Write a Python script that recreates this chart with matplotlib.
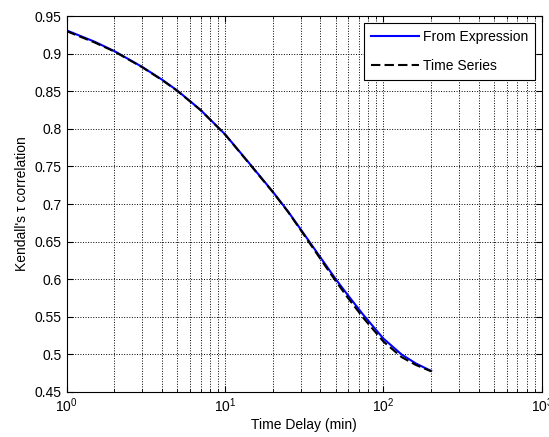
import matplotlib
matplotlib.use("Agg")
import matplotlib.pyplot as plt
from matplotlib.ticker import LogLocator, NullFormatter, MultipleLocator

# time delays (min) and Kendall's tau for both estimates
delay = [1, 1.5, 2, 3, 4, 5, 7, 10, 14, 20, 25, 30, 40, 50, 60, 75, 100, 130, 160, 200]
tau_expr = [0.931, 0.916, 0.9035, 0.8824, 0.8655, 0.8509, 0.8253, 0.7928, 0.7560, 0.7165,
            0.6900, 0.6665, 0.6290, 0.6000, 0.5780, 0.5520, 0.5210, 0.5000, 0.4880, 0.4780]
tau_ts = [0.930, 0.915, 0.9030, 0.8820, 0.8650, 0.8505, 0.8250, 0.7925, 0.7555, 0.7160,
          0.6895, 0.6655, 0.6270, 0.5975, 0.5745, 0.5480, 0.5170, 0.4965, 0.4860, 0.4775]

plt.rcParams['font.family'] = ['Liberation Sans', 'DejaVu Sans']
plt.rcParams['mathtext.fontset'] = 'custom'
plt.rcParams['mathtext.rm'] = 'Liberation Sans'
plt.rcParams['mathtext.it'] = 'Liberation Sans:italic'

fig = plt.figure(figsize=(5.49, 4.37), dpi=100)
ax = fig.add_axes([0.1215, 0.103, 0.8655, 0.860])

ax.plot(delay, tau_expr, color=(0, 0, 1), lw=1.5, label='From Expression')
ax.plot(delay, tau_ts, color='black', lw=1.5, dashes=(4.5, 2), label='Time Series')

ax.set_xscale('log')
ax.set_xlim(1, 1000)
ax.set_ylim(0.45, 0.95)
ax.yaxis.set_major_locator(MultipleLocator(0.05))
ax.xaxis.set_minor_locator(LogLocator(base=10, subs=range(2, 10)))
ax.xaxis.set_minor_formatter(NullFormatter())
ax.set_yticklabels([f'{v:g}' for v in ax.get_yticks()])

ax.grid(True, which='major', axis='both', color='black', linestyle=':', lw=0.7)
ax.grid(True, which='minor', axis='x', color='black', linestyle=':', lw=0.7)
ax.tick_params(which='both', direction='in', top=True, right=True, labelsize=10)
ax.tick_params(which='major', length=4)
ax.tick_params(which='minor', length=2.5)

ax.set_xlabel('Time Delay (min)', fontsize=10, labelpad=2)
ax.set_ylabel("Kendall's τ correlation", fontsize=10, labelpad=4)

leg = ax.legend(loc='upper right', fontsize=10, fancybox=False, framealpha=1,
                edgecolor='black', handlelength=3.4, handletextpad=0.3,
                labelspacing=1.05, borderpad=0.5, borderaxespad=0.5)
leg.get_frame().set_linewidth(0.8)

fig.savefig('out.png', dpi=100)
